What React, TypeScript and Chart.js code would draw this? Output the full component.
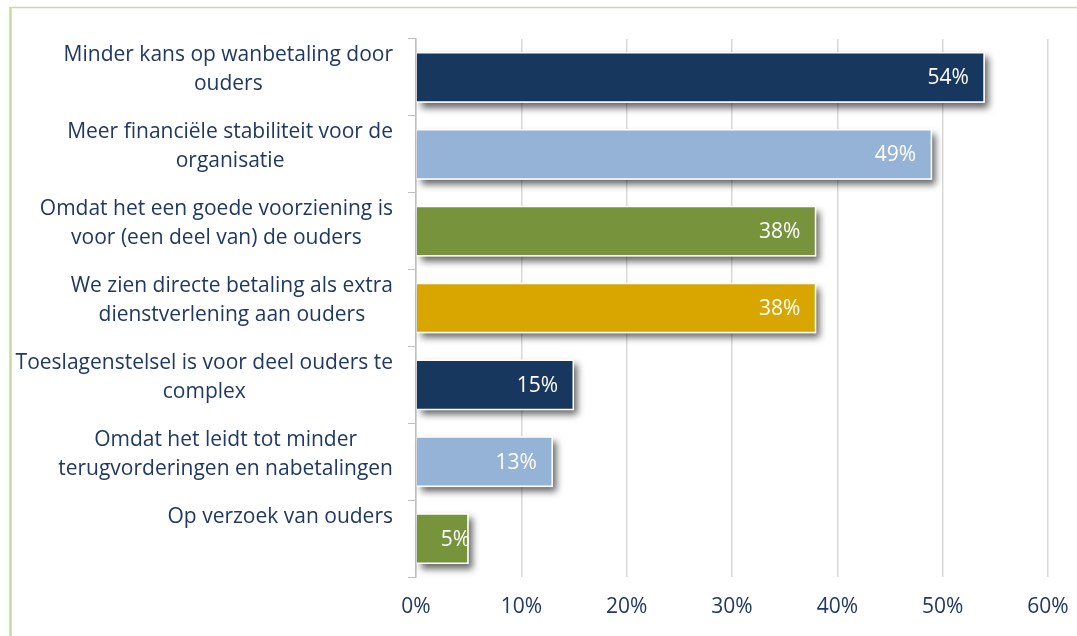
import React, { useEffect, useRef } from 'react';
import { Chart, registerables } from 'chart.js';

Chart.register(...registerables);

const categories: string[][] = [
  ['Minder kans op wanbetaling door', 'ouders'],
  ['Meer financiële stabiliteit voor de', 'organisatie'],
  ['Omdat het een goede voorziening is', 'voor (een deel van) de ouders'],
  ['We zien directe betaling als extra', 'dienstverlening aan ouders'],
  ['Toeslagenstelsel is voor deel ouders te', 'complex'],
  ['Omdat het leidt tot minder', 'terugvorderingen en nabetalingen'],
  ['Op verzoek van ouders'],
];
const values = [54, 49, 38, 38, 15, 13, 5];
const barColors = ['#17375E', '#95B3D7', '#77933C', '#D9A600', '#17375E', '#95B3D7', '#77933C'];
const xMin = 0;
const xMax = 60;
const xStep = 10;

const FONT = "'Open Sans', 'Noto Sans', sans-serif";
const TEXT = '#1F3864';

const framePlugin = {
  id: 'frame',
  beforeDraw(chart: any) {
    const ctx = chart.ctx;
    ctx.save();
    ctx.strokeStyle = '#C6DC9C';
    ctx.lineWidth = 2.5;
    ctx.beginPath();
    ctx.moveTo(10.5, 7);
    ctx.lineTo(10.5, 636);
    ctx.stroke();
    ctx.lineWidth = 1.5;
    ctx.beginPath();
    ctx.moveTo(9, 7.5);
    ctx.lineTo(1077, 7.5);
    ctx.stroke();
    ctx.restore();
  },
};

const shadowPlugin = {
  id: 'barShadow',
  beforeDatasetsDraw(chart: any) {
    const ctx = chart.ctx;
    const meta = chart.getDatasetMeta(0);
    ctx.save();
    ctx.shadowColor = 'rgba(0,0,0,0.6)';
    ctx.shadowBlur = 7;
    ctx.shadowOffsetX = 4;
    ctx.shadowOffsetY = 5;
    ctx.fillStyle = '#FFFFFF';
    meta.data.forEach((bar: any) => {
      const h = bar.height;
      const left = Math.min(bar.base, bar.x);
      const w = Math.abs(bar.x - bar.base);
      ctx.fillRect(left, bar.y - h / 2, w, h);
    });
    ctx.restore();
  },
};

const labelPlugin = {
  id: 'labels',
  afterDatasetsDraw(chart: any) {
    const ctx = chart.ctx;
    const meta = chart.getDatasetMeta(0);
    ctx.save();
    ctx.font = `21px ${FONT}`;
    ctx.fillStyle = '#FFFFFF';
    ctx.textBaseline = 'middle';
    ctx.textAlign = 'left';
    meta.data.forEach((bar: any, i: number) => {
      const txt = values[i] + '%';
      const w = ctx.measureText(txt).width;
      let left = bar.x - 16 - w;
      const minLeft = bar.base + 24;
      if (left < minLeft) left = minLeft;
      ctx.fillText(txt, left, bar.y + 1);
    });
    ctx.restore();
  },
  afterDraw(chart: any) {
    const ctx = chart.ctx;
    const yScale = chart.scales.y;
    ctx.save();
    ctx.font = `21px ${FONT}`;
    ctx.fillStyle = TEXT;
    ctx.textBaseline = 'middle';
    ctx.textAlign = 'center';
    const right = 393;
    const lh = 29;
    categories.forEach((lines, i) => {
      const cy = yScale.getPixelForValue(i);
      const maxW = Math.max(...lines.map((l) => ctx.measureText(l).width));
      const cx = right - maxW / 2;
      lines.forEach((l, j) => {
        ctx.fillText(l, cx, cy - 22 + j * lh);
      });
    });
    ctx.restore();
  },
};

export default function App() {
  const ref = useRef<HTMLCanvasElement | null>(null);
  useEffect(() => {
    document.body.style.margin = '0';
    if (!ref.current) return;
    const chart = new Chart(ref.current, {
      type: 'bar',
      data: {
        labels: categories.map((c) => c.join(' ')),
        datasets: [
          {
            data: values,
            backgroundColor: barColors,
            borderColor: '#FFFFFF',
            borderWidth: 1.5,
            borderSkipped: 'start',
            categoryPercentage: 1,
            barPercentage: 0.66,
          },
        ],
      },
      options: {
        indexAxis: 'y',
        responsive: false,
        animation: false,
        devicePixelRatio: 1,
        layout: { padding: { top: 39, right: 29, left: 0, bottom: 0 } },
        plugins: { legend: { display: false }, tooltip: { enabled: false } },
        scales: {
          x: {
            min: xMin,
            max: xMax,
            ticks: {
              stepSize: xStep,
              callback: (v: any) => v + '%',
              color: TEXT,
              font: { family: FONT, size: 21 },
              padding: 17,
            },
            grid: { color: '#D9D9D9', lineWidth: 1.5, drawTicks: false },
            border: { display: false },
            afterFit: (s: any) => {
              s.height = 59;
              s.paddingLeft = 0;
              s.paddingRight = 0;
            },
          },
          y: {
            ticks: { display: false },
            grid: {
              drawOnChartArea: false,
              drawTicks: true,
              tickLength: 8,
              color: '#BFBFBF',
              offset: true,
            },
            border: { display: true, color: '#BFBFBF', width: 1.5 },
            afterFit: (s: any) => {
              s.width = 416;
              s.paddingTop = 0;
              s.paddingBottom = 0;
            },
          },
        },
      },
      plugins: [framePlugin, shadowPlugin, labelPlugin],
    });
    return () => chart.destroy();
  }, []);
  return (
    <div style={{ width: 1077, height: 636 }}>
      <canvas ref={ref} width={1077} height={636} style={{ display: 'block' }} />
    </div>
  );
}
